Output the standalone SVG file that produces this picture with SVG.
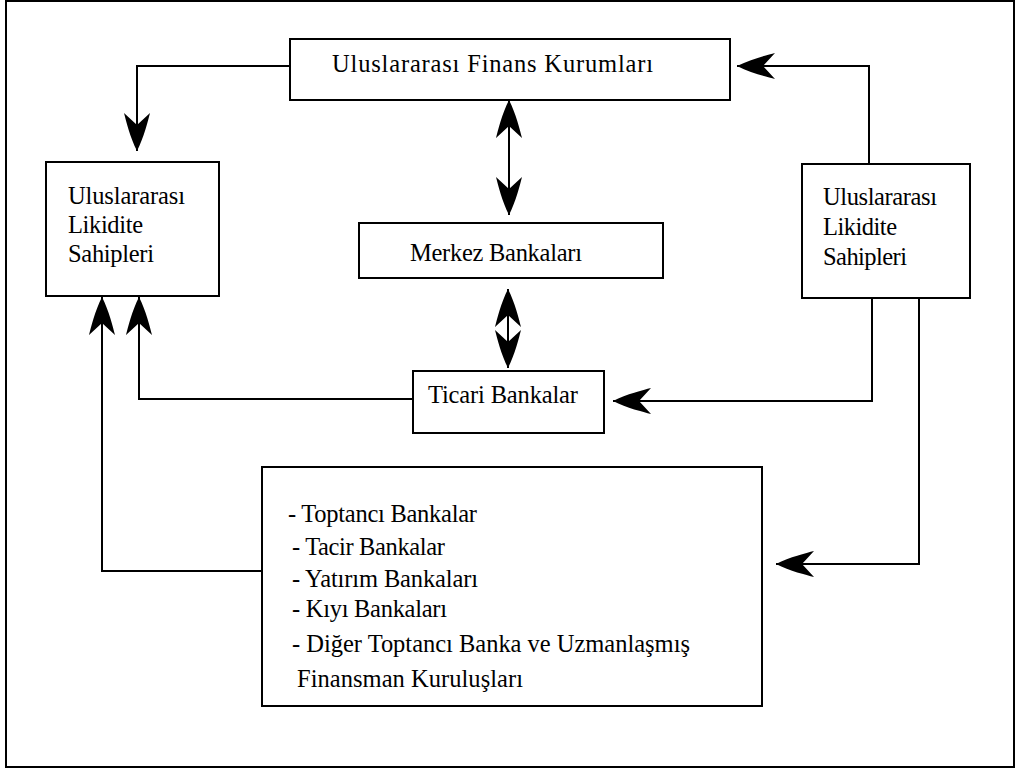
<svg xmlns="http://www.w3.org/2000/svg" width="1016" height="772" viewBox="0 0 1016 772">
<style>
.box{fill:#fff;stroke:#000;stroke-width:2}
.t{font-family:"Liberation Serif","Times New Roman",serif;font-size:24.5px;fill:#000}
.c{fill:none;stroke:#000;stroke-width:2}
.ae{marker-end:url(#ah)}
.ab{marker-start:url(#ahs);marker-end:url(#ah)}
</style>
<defs>
<marker id="ah" markerUnits="userSpaceOnUse" viewBox="-40 -14 42 28" refX="0" refY="0" markerWidth="42" markerHeight="28" orient="auto">
<path d="M0,0 C-14,-7 -30,-11 -38,-13 L-26,0 L-38,13 C-30,11 -14,7 0,0 Z" fill="#000"/>
</marker>
<marker id="ahs" markerUnits="userSpaceOnUse" viewBox="-40 -14 42 28" refX="0" refY="0" markerWidth="42" markerHeight="28" orient="auto-start-reverse">
<path d="M0,0 C-14,-7 -30,-11 -38,-13 L-26,0 L-38,13 C-30,11 -14,7 0,0 Z" fill="#000"/>
</marker>
</defs>
<rect x="6" y="1" width="1008" height="766" fill="#fff" stroke="#000" stroke-width="2"/>
<g id="connectors">
<path class="c ae" d="M290,66 H137 V151"/>
<path class="c ab" d="M509,100 V215"/>
<path class="c ab" d="M508,289 V368"/>
<path class="c ae" d="M869,164 V66 H737"/>
<path class="c ae" d="M872,298 V401 H613"/>
<path class="c ae" d="M919,298 V564 H776"/>
<path class="c ae" d="M413,399 H139 V297"/>
<path class="c ae" d="M262,571 H102 V297"/>
</g>
<g id="finans">
<rect class="box" x="290" y="39" width="440" height="61"/>
<text class="t" x="332" y="72" textLength="321" lengthAdjust="spacing">Uluslararası Finans Kurumları</text>
</g>
<g id="likidite-sol">
<rect class="box" x="46" y="162" width="173" height="134"/>
<text class="t" x="68" y="204" textLength="117" lengthAdjust="spacing">Uluslararası</text>
<text class="t" x="68" y="233" textLength="75" lengthAdjust="spacing">Likidite</text>
<text class="t" x="68" y="262" textLength="86" lengthAdjust="spacing">Sahipleri</text>
</g>
<g id="likidite-sag">
<rect class="box" x="802" y="164" width="168" height="134"/>
<text class="t" x="823" y="205" textLength="114" lengthAdjust="spacing">Uluslararası</text>
<text class="t" x="823" y="235" textLength="74" lengthAdjust="spacing">Likidite</text>
<text class="t" x="823" y="265" textLength="84" lengthAdjust="spacing">Sahipleri</text>
</g>
<g id="merkez">
<rect class="box" x="359" y="223" width="304" height="55"/>
<text class="t" x="410" y="261" textLength="172" lengthAdjust="spacing">Merkez Bankaları</text>
</g>
<g id="ticari">
<rect class="box" x="413" y="371" width="191" height="62"/>
<text class="t" x="428" y="403" textLength="150" lengthAdjust="spacing">Ticari Bankalar</text>
</g>
<g id="diger">
<rect class="box" x="262" y="467" width="500" height="239"/>
<text class="t" x="288" y="522" textLength="189" lengthAdjust="spacing">- Toptancı Bankalar</text>
<text class="t" x="292" y="555" textLength="153" lengthAdjust="spacing">- Tacir Bankalar</text>
<text class="t" x="292" y="587" textLength="186" lengthAdjust="spacing">- Yatırım Bankaları</text>
<text class="t" x="292" y="617" textLength="155" lengthAdjust="spacing">- Kıyı Bankaları</text>
<text class="t" x="292" y="652" textLength="398" lengthAdjust="spacing">- Diğer Toptancı Banka ve Uzmanlaşmış</text>
<text class="t" x="297" y="687" textLength="226" lengthAdjust="spacing">Finansman Kuruluşları</text>
</g>
</svg>
